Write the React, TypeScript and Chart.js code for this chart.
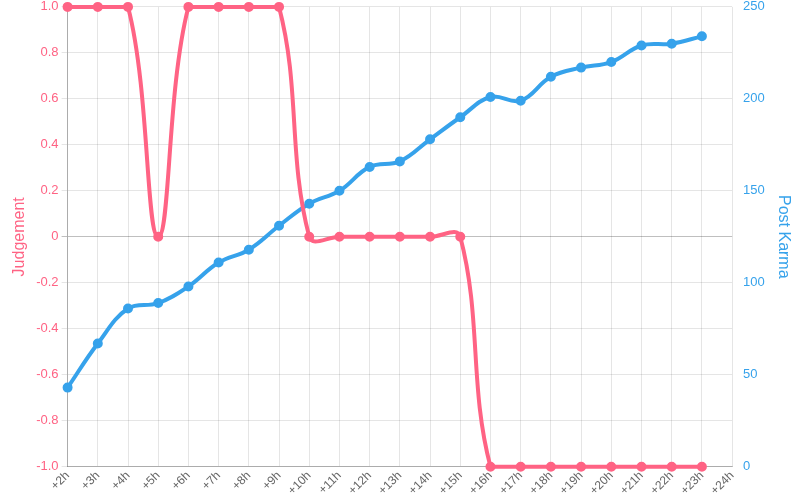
import React, { useEffect, useRef } from "react";
import { Chart, registerables } from "chart.js";

Chart.register(...registerables);

const labels = ["+2h","+3h","+4h","+5h","+6h","+7h","+8h","+9h","+10h","+11h","+12h","+13h","+14h","+15h","+16h","+17h","+18h","+19h","+20h","+21h","+22h","+23h","+24h"];
const judgement = [1, 1, 1, 0, 1, 1, 1, 1, 0, 0, 0, 0, 0, 0, -1, -1, -1, -1, -1, -1, -1, -1];
const postKarma = [43, 67, 86, 89, 98, 111, 118, 131, 143, 150, 163, 166, 178, 190, 201, 199, 212, 217, 220, 229, 230, 234];

const RED = "#ff6384";
const BLUE = "#36a2eb";
const FONT = "'Liberation Sans', Arial, sans-serif";

export default function App() {
  const ref = useRef<HTMLCanvasElement | null>(null);
  useEffect(() => {
    const canvas = ref.current;
    if (!canvas) return;
    const chart = new Chart(canvas, {
      type: "line",
      data: {
        labels,
        datasets: [
          {
            label: "Judgement",
            data: judgement,
            yAxisID: "y",
            borderColor: RED,
            backgroundColor: RED,
            borderWidth: 4,
            pointRadius: 4,
            pointBorderWidth: 2,
            tension: 0.4,
            fill: false,
            clip: false as any,
          },
          {
            label: "Post Karma",
            data: postKarma,
            yAxisID: "y1",
            borderColor: BLUE,
            backgroundColor: BLUE,
            borderWidth: 4,
            pointRadius: 4,
            pointBorderWidth: 2,
            tension: 0.4,
            fill: false,
            clip: false as any,
          },
        ],
      },
      options: {
        animation: false,
        responsive: false,
        maintainAspectRatio: false,
        layout: { autoPadding: false, padding: { top: 0, right: 0, left: 6, bottom: 0 } },
        plugins: { legend: { display: false }, tooltip: { enabled: false } },
        scales: {
          x: {
            grid: { color: "rgba(0,0,0,0.1)", drawTicks: false },
            border: { color: "rgba(0,0,0,0.25)" },
            ticks: {
              color: "#666",
              padding: 2,
              font: { family: FONT, size: 12 },
              maxRotation: 45,
              minRotation: 45,
              autoSkip: false,
            },
          },
          y: {
            position: "left",
            min: -1,
            max: 1,
            grid: {
              color: (c: any) => (Math.abs(c.tick?.value ?? 1) < 1e-9 ? "rgba(0,0,0,0.25)" : "rgba(0,0,0,0.1)"),
              tickLength: 6,
            },
            border: { color: "rgba(0,0,0,0.25)" },
            ticks: {
              stepSize: 0.2,
              color: RED,
              padding: 3,
              font: { family: FONT, size: 13, lineHeight: 0.6 },
              callback: (v: any) => (Math.abs(v) < 1e-9 ? "0" : Number(v).toFixed(1)),
            },
            title: {
              display: true,
              text: "Judgement",
              color: RED,
              font: { family: FONT, size: 16 },
            },
          },
          y1: {
            position: "right",
            min: 0,
            max: 250,
            grid: { drawOnChartArea: false, drawTicks: true, tickLength: 11, tickColor: "rgba(0,0,0,0)" },
            border: { display: false },
            ticks: {
              stepSize: 50,
              color: BLUE,
              padding: 0,
              font: { family: FONT, size: 13, lineHeight: 0.6 },
            },
            title: {
              display: true,
              text: "Post Karma",
              color: BLUE,
              padding: { top: 7, bottom: 9 },
              font: { family: FONT, size: 16 },
            },
          },
        },
      },
    });
    return () => chart.destroy();
  }, []);
  return (
    <div style={{ position: "fixed", left: 0, top: 0, width: 800, height: 500 }}>
      <canvas ref={ref} width={800} height={500} style={{ width: 800, height: 500 }} />
    </div>
  );
}
